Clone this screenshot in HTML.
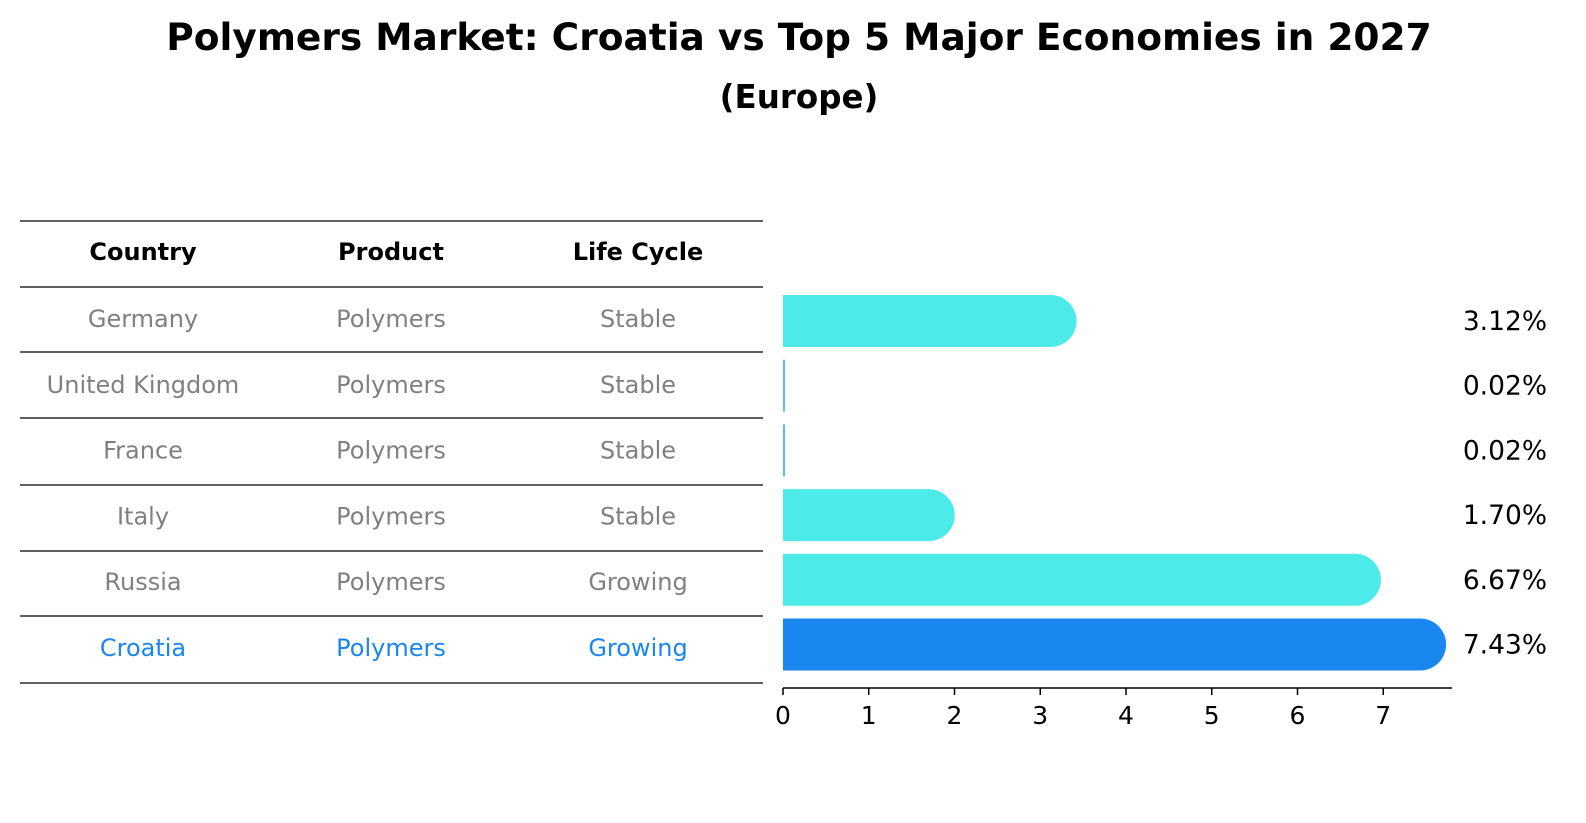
<!DOCTYPE html>
<html><head><meta charset="utf-8"><style>
html,body{margin:0;padding:0;background:#fff;overflow:hidden;width:1586px;height:823px;}
svg{display:block;}
svg text{font-family:"DejaVu Sans","Liberation Sans",sans-serif;}
</style></head><body>
<svg width="1586" height="823" xmlns="http://www.w3.org/2000/svg">
<text x="799" y="50" text-anchor="middle" font-size="37.5" font-weight="bold">Polymers Market: Croatia vs Top 5 Major Economies in 2027</text>
<text x="799" y="108" text-anchor="middle" font-size="32.5" font-weight="bold">(Europe)</text>
<g id="table"></g>
<g id="bars"></g>
</svg>
<script>
const countries=["Germany","United Kingdom","France","Italy","Russia","Croatia"];
const products=["Polymers","Polymers","Polymers","Polymers","Polymers","Polymers"];
const lifeCycles=["Stable","Stable","Stable","Stable","Growing","Growing"];
const values=[3.12,0.02,0.02,1.70,6.67,7.43];
const valueLabels=["3.12%","0.02%","0.02%","1.70%","6.67%","7.43%"];
const ticks=[0,1,2,3,4,5,6,7];
const NS="http://www.w3.org/2000/svg";
function mk(tag,attrs,parent){const e=document.createElementNS(NS,tag);for(const k in attrs)e.setAttribute(k,attrs[k]);parent.appendChild(e);return e;}
const table=document.getElementById('table');
const lineYs=[221,287,352,418,485,551,616,683];
lineYs.forEach((y,i)=>{const l=mk('line',{x1:20,x2:763,y1:y,y2:y,stroke:'#000','stroke-width':1.2},table);

});
const colX=[143,391,638];
["Country","Product","Life Cycle"].forEach((h,i)=>{const t=mk('text',{x:colX[i],y:260,'text-anchor':'middle','font-size':24,'font-weight':'bold'},table);t.textContent=h;

});
const rowY=i=>320+i*65.8;
countries.forEach((c,i)=>{const col=c==="Croatia"?"#1a86f0":"#808080";
[c,products[i],lifeCycles[i]].forEach((v,j)=>{const t=mk('text',{x:colX[j],y:rowY(i)+7,'text-anchor':'middle','font-size':24,fill:col},table);t.textContent=v;

});});
const bars=document.getElementById('bars');
const x0=783,pxPer=85.75;
const xs=v=>x0+v*pxPer;
const barY=i=>321+i*64.7;
const h=52,r=26;
values.forEach((v,i)=>{const col=countries[i]==="Croatia"?"#1a86f0":"#4deaea";
const cy=barY(i),xe=xs(v);let el;
if(v<0.1){el=mk('rect',{x:x0,y:cy-h/2,width:Math.max(2,xe-x0),height:h,fill:'#4ec8ea'},bars);}
else{el=mk('path',{d:`M${x0},${cy-h/2} H${xe} A${r},${r} 0 0 1 ${xe},${cy+h/2} H${x0} Z`,fill:col},bars);}


const t=mk('text',{x:1547,y:cy+9,'text-anchor':'end','font-size':26.5},bars);t.textContent=valueLabels[i];

});
const ax=mk('line',{x1:x0,x2:1452,y1:688,y2:688,stroke:'#000','stroke-width':1.5},bars);


ticks.forEach(tv=>{const x=xs(tv);const tk=mk('line',{x1:x,x2:x,y1:688,y2:695,stroke:'#000','stroke-width':1.5},bars);


const t=mk('text',{x:x,y:724,'text-anchor':'middle','font-size':25},bars);t.textContent=tv;

});
</script>
</body></html>
